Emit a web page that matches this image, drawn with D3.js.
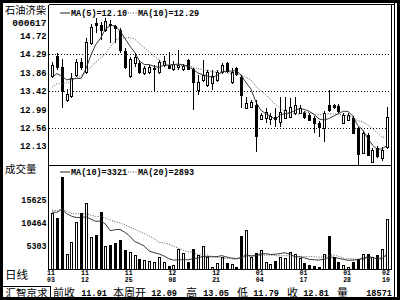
<!DOCTYPE html>
<html><head><meta charset="utf-8">
<script src="https://cdn.jsdelivr.net/npm/d3@7"></script>
<style>
html,body{margin:0;padding:0;background:#fff;}
svg{display:block;}
.mono{font-family:"Liberation Mono","DejaVu Sans Mono",monospace;font-weight:bold;}
.cjk{font-family:"Noto Sans CJK SC","Noto Sans",sans-serif;}
</style></head><body>
<svg id="c" width="400" height="300"></svg>
<script>
const stockName = "石油济柴";
const stockCode = "000617";
const opens  = [13.78,14.25,13.99,13.22,13.31,13.80,14.11,13.88,14.56,15.03,14.98,14.86,15.00,14.95,14.86,14.37,13.78,14.09,14.09,13.85,
                13.88,13.95,13.88,14.04,14.04,13.95,13.99,13.95,14.16,13.95,13.45,13.69,13.57,13.62,13.69,13.88,14.09,13.64,13.97,13.76,
                13.03,13.05,13.10,12.77,12.79,12.77,12.82,12.70,12.79,12.82,12.91,12.91,12.91,12.87,12.79,12.68,12.56,13.10,13.10,13.08,
                12.68,12.75,12.79,12.56,11.97,12.40,11.76,12.09,11.86,12.11];
const highs  = [14.11,14.32,14.18,13.48,13.85,14.18,14.20,14.67,15.00,15.14,15.05,15.14,15.10,14.98,14.91,14.44,14.23,14.32,14.13,14.02,
                14.04,14.04,14.16,14.25,14.34,14.13,14.39,14.06,14.18,13.97,13.80,14.16,13.92,13.92,13.92,14.09,14.11,13.97,13.99,13.80,
                13.29,13.22,13.22,12.91,13.03,12.91,13.03,13.29,13.29,13.26,13.29,13.10,12.96,12.91,12.84,12.72,12.96,13.45,13.12,13.12,
                12.91,12.91,12.84,12.58,12.49,12.44,12.09,12.14,12.11,13.05];
const lows   = [13.73,13.92,13.03,13.17,13.26,13.76,13.92,13.83,14.51,14.79,14.63,14.81,14.56,14.56,14.32,13.95,13.73,13.99,13.83,13.80,
                13.83,13.41,13.83,13.99,13.95,13.90,13.92,13.90,13.92,12.98,13.33,13.64,13.52,13.45,13.64,13.83,13.85,13.59,13.78,13.03,
                13.01,13.03,12.00,12.75,12.68,12.63,12.58,12.58,12.77,12.79,12.87,12.89,12.77,12.72,12.44,12.35,12.23,12.94,13.01,12.91,
                12.65,12.72,12.42,11.69,11.95,11.90,11.74,11.86,11.79,12.07];
const closes = [14.04,13.99,13.43,13.36,13.73,14.11,13.99,14.58,14.93,14.98,14.86,15.07,14.98,14.91,14.39,13.99,14.18,14.23,13.88,13.97,
                13.99,13.97,14.11,14.13,13.97,14.06,14.04,14.02,13.95,13.64,13.64,13.80,13.88,13.78,13.88,14.04,13.90,13.88,13.83,13.33,
                13.15,13.17,12.37,12.87,12.94,12.84,12.77,12.94,12.98,13.05,13.10,13.03,12.82,12.75,12.68,12.58,12.91,12.98,13.05,12.96,
                12.87,12.87,12.44,11.95,12.44,11.93,12.04,11.91,12.04,12.81];
const volumes = [12610,11489,20824,3478,6238,10726,12746,14990,7226,7854,12970,5273,5386,6014,6732,4488,3927,3254,2356,2132,
                 1907,1571,2693,1571,785,898,4600,3703,1795,4712,3254,5206,2805,628,1459,2872,1459,1346,673,7517,
                 8864,2872,3770,4376,1683,1234,1907,2872,2581,3994,3478,2581,1459,1010,785,561,3478,7450,2738,1683,
                 1010,673,1683,2356,3590,3478,2693,3254,4600,11332];
// estimated sessions before the first visible one (needed for the moving averages)
const priorCloses  = [13.20,13.35,13.25,13.30,13.36,13.55,13.72,13.80,13.64];
const priorVolumes = [14200,12800,15100,13600,14500,12900,13300,14800,13200,13600,
                      12400,14100,13000,11800,13900,12600,13500,12300,12788];
const priceTicks = ["14.72","14.29","13.86","13.42","12.99","12.56","12.13"];
const priceGrid  = [14.29, 13.42, 12.56];
const volTicks   = ["15625","10464","5303"];
const dateTickIdx    = [0,7,16,25,34,43,52,61,69];
const dateTickTop    = ["11","11","11","12","12","01","01","01","02"];
const dateTickBottom = ["03","12","25","08","21","04","17","28","10"];
const priceLegend = ["MA(5)=12.10","MA(10)=12.29"];
const volLegend   = ["MA(10)=3321","MA(20)=2893"];
const infoBox    = "汇智京求";
const infoLabels = ["前收","本周开","高","低","收","量"];
const infoValues = ["11.91","12.09","13.05","11.79","12.81","18571"];

const svg = d3.select("#c");
svg.append("rect").attr("width",400).attr("height",300).attr("fill","#fff");

const n = closes.length;
const x = d3.scaleBand().domain(d3.range(n)).range([49.6, 389.4]);
const cx = i => x(i) + x.bandwidth()/2;
const px = i => Math.round(cx(i));
const yP = d3.scaleLinear().domain([11.691, 15.448]).range([165, 5]);
const yV = d3.scaleLinear().domain([0, 23450]).range([269.5, 165]);

function movingAvg(series, prior, k){
  const all = prior.concat(series);
  return series.map((_,i)=>{const j=i+prior.length; return d3.mean(all.slice(Math.max(0,j-k+1), j+1));});
}

const defs = svg.append("defs");
defs.append("clipPath").attr("id","cp").append("rect").attr("x",49).attr("y",5).attr("width",342).attr("height",160.5);
defs.append("clipPath").attr("id","cv").append("rect").attr("x",49).attr("y",166).attr("width",342).attr("height",104);

// price gridlines
svg.append("g").attr("shape-rendering","crispEdges")
  .selectAll("line").data(priceGrid).join("line")
  .attr("x1",49).attr("x2",391)
  .attr("y1",d=>Math.round(yP(d))+0.5).attr("y2",d=>Math.round(yP(d))+0.5)
  .attr("stroke","#000").attr("stroke-dasharray","1,2");

// candles
const cg = svg.append("g").attr("clip-path","url(#cp)").attr("shape-rendering","crispEdges");
const idx = d3.range(n);
cg.selectAll("line.wick").data(idx).join("line").attr("class","wick")
  .attr("x1",i=>px(i)+0.5).attr("x2",i=>px(i)+0.5)
  .attr("y1",i=>yP(highs[i])).attr("y2",i=>yP(lows[i]))
  .attr("stroke","#000");
cg.selectAll("rect.body").data(idx).join("rect").attr("class","body")
  .attr("x",i=>px(i)-0.5)
  .attr("y",i=>Math.round(yP(Math.max(opens[i],closes[i])))+0.5)
  .attr("width",2)
  .attr("height",i=>Math.max(1, Math.round(yP(Math.min(opens[i],closes[i])))-Math.round(yP(Math.max(opens[i],closes[i])))))
  .attr("fill",i=>closes[i]>=opens[i]?"#fff":"#000")
  .attr("stroke","#000");

// price MAs
const ma5 = movingAvg(closes, priorCloses, 5);
const ma10 = movingAvg(closes, priorCloses, 10);
const pl = d3.line().x((d,i)=>cx(i)).y(d=>yP(d));
const mg = svg.append("g").attr("clip-path","url(#cp)").attr("fill","none");
mg.append("path").attr("d",pl(ma10)).attr("stroke","#555").attr("stroke-width",1).attr("stroke-dasharray","1,1.5");
mg.append("path").attr("d",pl(ma5)).attr("stroke","#222").attr("stroke-width",0.9);

// volume bars
const vg = svg.append("g").attr("clip-path","url(#cv)").attr("shape-rendering","crispEdges");
vg.selectAll("rect").data(idx).join("rect")
  .attr("x",i=>px(i)-0.5)
  .attr("y",i=>Math.round(yV(volumes[i]))+0.5)
  .attr("width",2)
  .attr("height",i=>269-Math.round(yV(volumes[i])))
  .attr("fill",i=>closes[i]>=opens[i]?"#fff":"#000")
  .attr("stroke","#000");
const vma10 = movingAvg(volumes, priorVolumes, 10);
const vma20 = movingAvg(volumes, priorVolumes, 20);
const vl = d3.line().x((d,i)=>cx(i)).y(d=>yV(d));
const vmg = svg.append("g").attr("clip-path","url(#cv)").attr("fill","none");
vmg.append("path").attr("d",vl(vma20)).attr("stroke","#555").attr("stroke-width",1).attr("stroke-dasharray","1,1.5");
vmg.append("path").attr("d",vl(vma10)).attr("stroke","#222").attr("stroke-width",0.9);

// frames
const fr = svg.append("g").attr("shape-rendering","crispEdges").attr("stroke","#000").attr("fill","none");
fr.append("rect").attr("x",1.5).attr("y",1.5).attr("width",397).attr("height",297).attr("stroke-width",3);
fr.append("line").attr("x1",394.5).attr("x2",394.5).attr("y1",3).attr("y2",297);
fr.append("line").attr("x1",48.5).attr("x2",394.5).attr("y1",4.5).attr("y2",4.5);
fr.append("line").attr("x1",48.5).attr("x2",48.5).attr("y1",4.5).attr("y2",269.5);
fr.append("line").attr("x1",391.5).attr("x2",391.5).attr("y1",4.5).attr("y2",269.5);
fr.append("line").attr("x1",48.5).attr("x2",391.5).attr("y1",165.5).attr("y2",165.5);
fr.append("line").attr("x1",48.5).attr("x2",391.5).attr("y1",269.5).attr("y2",269.5);
fr.append("rect").attr("x",2.5).attr("y",286.5).attr("width",48).attr("height",11);

// axis labels
const ax = svg.append("g");
ax.selectAll("text.pt").data(priceTicks).join("text").attr("class","mono")
  .attr("x",46.5).attr("y",d=>yP(+d)).attr("dy","0.35em").attr("text-anchor","end")
  .attr("font-size",8.8).text(d=>d);
ax.selectAll("text.vt").data(volTicks).join("text").attr("class","mono")
  .attr("x",46.5).attr("y",d=>yV(+d)).attr("dy","0.35em").attr("text-anchor","end")
  .attr("font-size",8.4).text(d=>d);
ax.selectAll("text.dt").data(dateTickIdx).join("text").attr("class","mono")
  .attr("x",i=>cx(i)-1).attr("y",274.6).attr("text-anchor","middle")
  .attr("font-size",6.5).text((d,k)=>dateTickTop[k]);
ax.selectAll("text.db").data(dateTickIdx).join("text").attr("class","mono")
  .attr("x",i=>cx(i)-1).attr("y",282.1).attr("text-anchor","middle")
  .attr("font-size",6.5).text((d,k)=>dateTickBottom[k]);

// titles
svg.append("text").attr("class","cjk").attr("x",5).attr("y",10.5).attr("dy","0.35em").attr("font-size",10.3).text(stockName);
svg.append("text").attr("class","mono").attr("x",46.5).attr("y",22.3).attr("dy","0.35em").attr("text-anchor","end").attr("font-size",9.5).text(stockCode);
svg.append("text").attr("class","cjk").attr("x",5).attr("y",169).attr("dy","0.35em").attr("font-size",10.5).text("成交量");
svg.append("text").attr("class","cjk").attr("x",5).attr("y",275.3).attr("dy","0.35em").attr("font-size",11.5).text("日线");

// legends
function legend(yc, labels){
  const g = svg.append("g");
  g.append("line").attr("x1",60).attr("x2",70).attr("y1",yc).attr("y2",yc).attr("stroke","#222");
  g.append("text").attr("class","mono").attr("x",71).attr("y",yc).attr("dy","0.35em").attr("font-size",8.5).text(labels[0]);
  g.append("line").attr("x1",128).attr("x2",137).attr("y1",yc).attr("y2",yc).attr("stroke","#555").attr("stroke-dasharray","1,1.5");
  g.append("text").attr("class","mono").attr("x",138).attr("y",yc).attr("dy","0.35em").attr("font-size",8.5).text(labels[1]);
}
legend(13, priceLegend);
legend(172, volLegend);

// info bar
const infoLabelX = [53,113,186,237,287,337];
const infoValueR = [107,177,229,279,329,392];
const ib = svg.append("g");
ib.append("text").attr("class","cjk").attr("x",26.5).attr("y",293).attr("dy","0.35em").attr("text-anchor","middle").attr("font-size",10.5).text(infoBox);
ib.selectAll("text.il").data(infoLabels).join("text").attr("class","cjk")
  .attr("x",(d,k)=>infoLabelX[k]).attr("y",293).attr("dy","0.35em").attr("font-size",11).text(d=>d);
ib.selectAll("text.iv").data(infoValues).join("text").attr("class","mono")
  .attr("x",(d,k)=>infoValueR[k]).attr("y",293).attr("dy","0.35em").attr("text-anchor","end").attr("font-size",8.6).text(d=>d);
</script>
</body></html>
